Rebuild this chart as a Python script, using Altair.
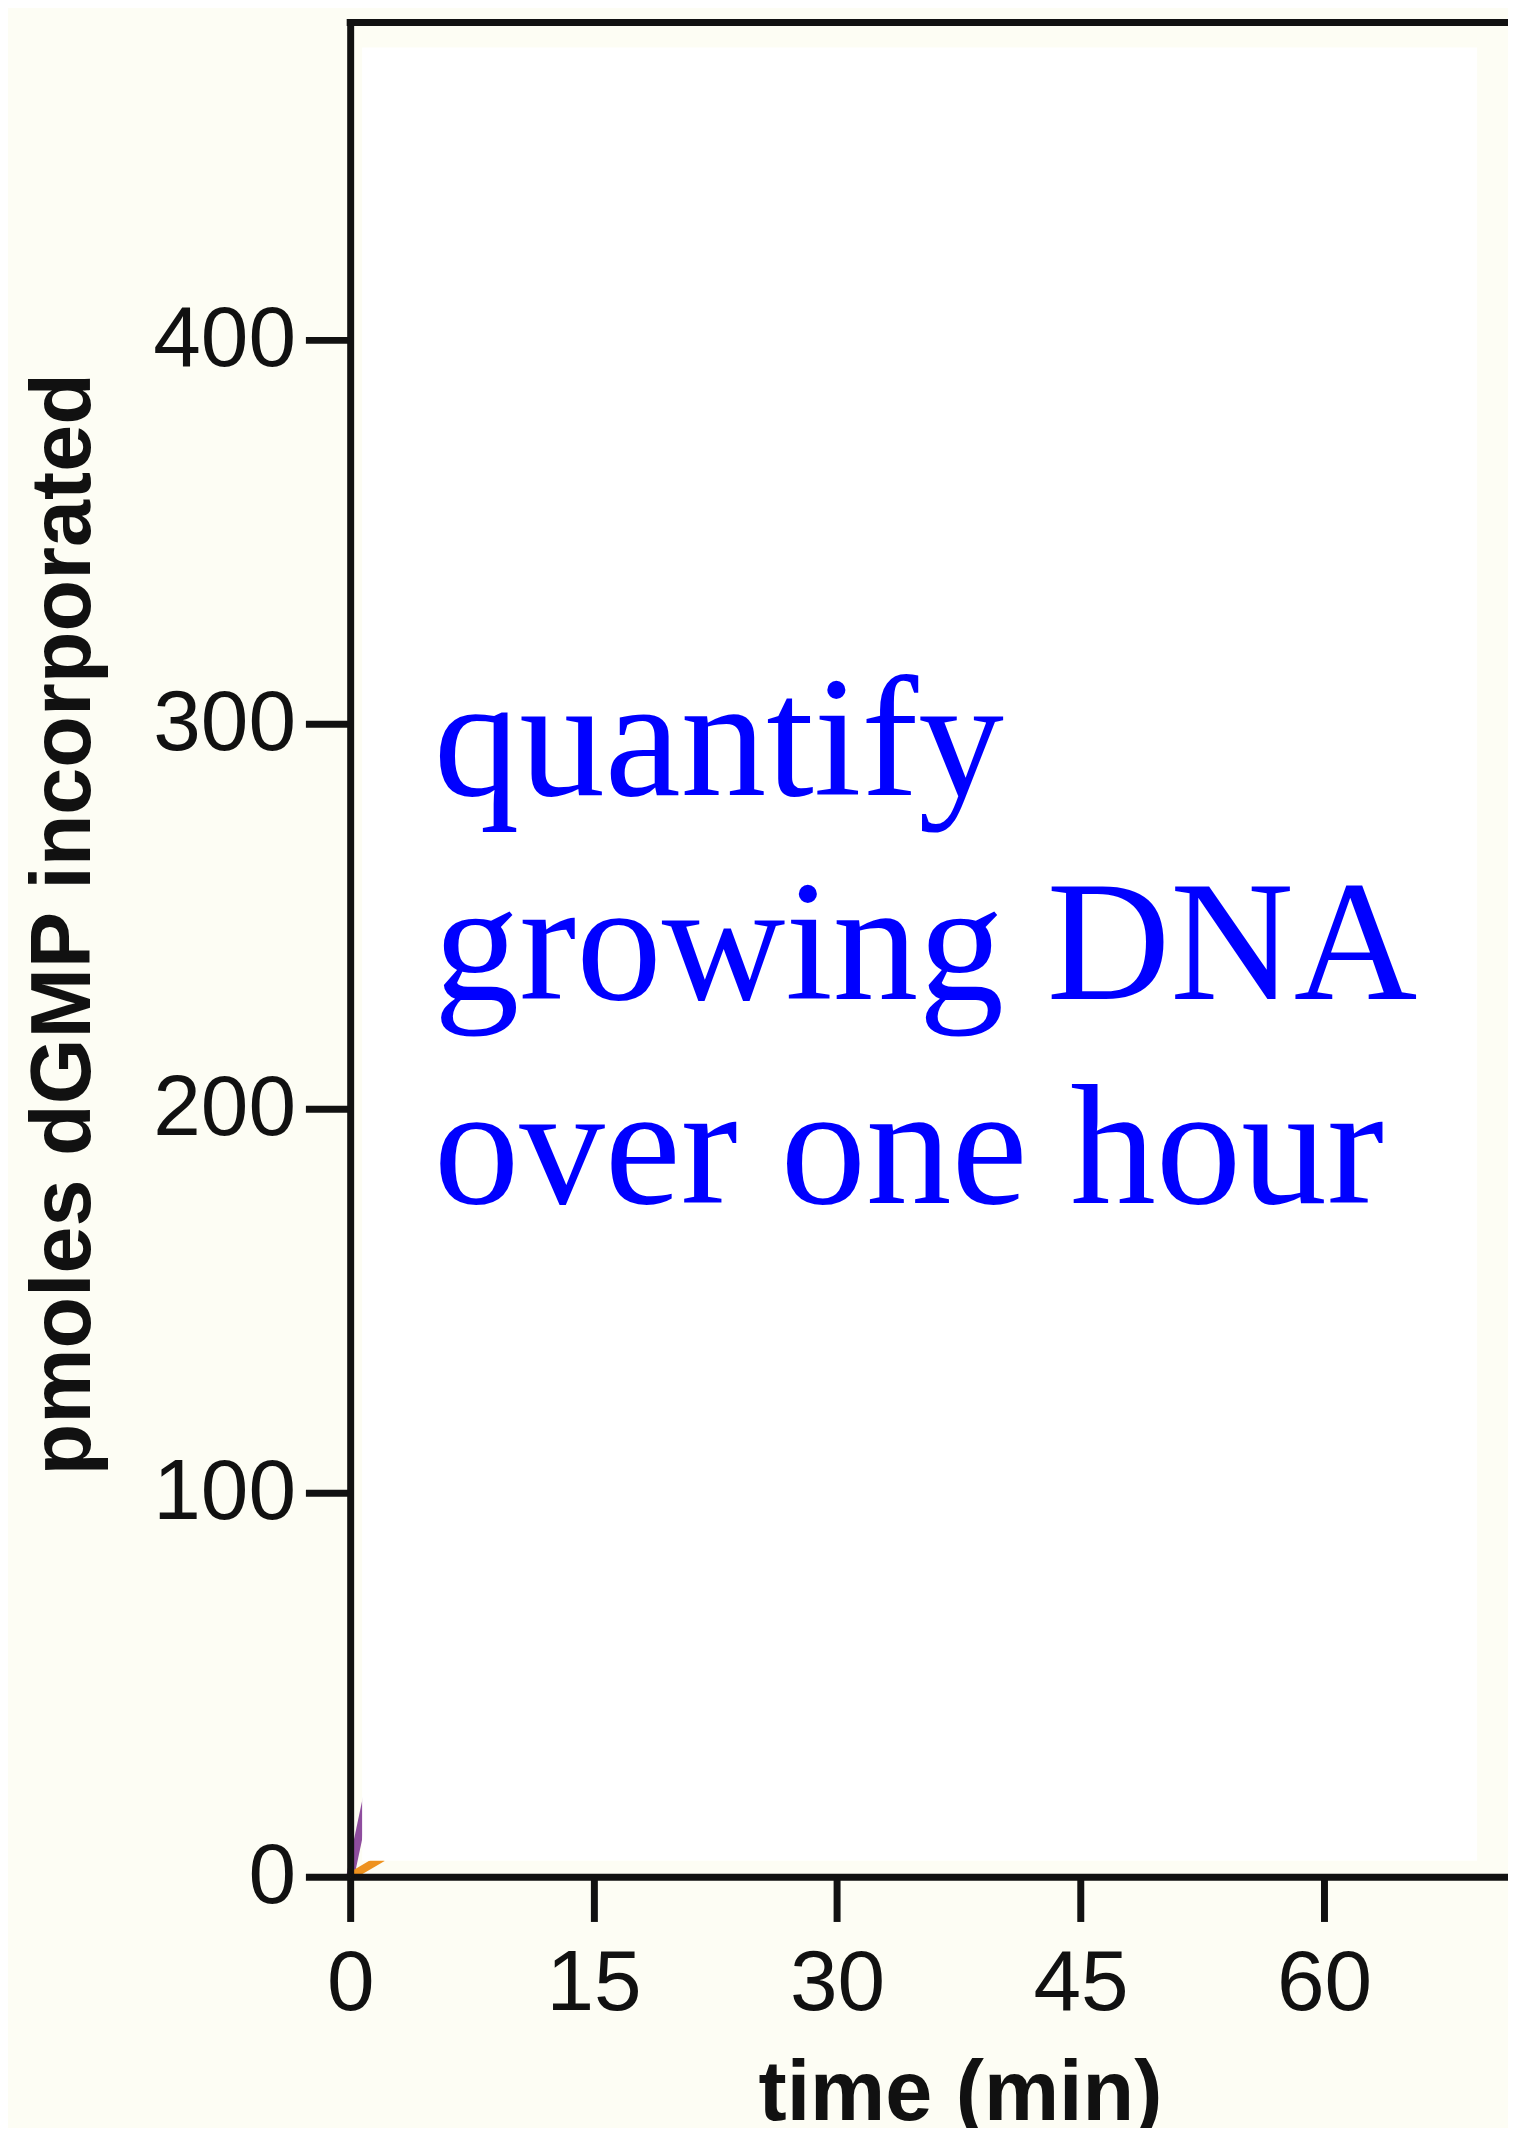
import altair as alt
import pandas as pd

# data (only the tails near the origin are visible)
purple_time = [0, 2]
purple_value = [0, 40]
orange_time = [0, 2]
orange_value = [0, 5]
x_ticks = [0, 15, 30, 45, 60]
y_ticks = [0, 100, 200, 300, 400]
annotation = "quantify\ngrowing DNA\nover one hour"

W, H = 1164, 1864
X_DOMAIN = [0, 71.34]
Y_DOMAIN = [0, 482.6]

lines_df = pd.DataFrame({
    "time": purple_time + orange_time,
    "value": purple_value + orange_value,
    "series": ["purple"] * len(purple_time) + ["orange"] * len(orange_time),
})

x_enc = alt.X(
    "time:Q",
    scale=alt.Scale(domain=X_DOMAIN, nice=False, zero=False),
    axis=alt.Axis(
        values=x_ticks, title="time (min)", grid=False, labelFlush=False,
        titleX=613, titleY=244, titleAlign="center", titleBaseline="alphabetic",
        labelPadding=21, zindex=1,
    ),
)
y_enc = alt.Y(
    "value:Q",
    scale=alt.Scale(domain=Y_DOMAIN, nice=False),
    axis=alt.Axis(
        values=y_ticks, title="pmoles dGMP incorporated", grid=False, labelFlush=False,
        titleX=-262, titleY=906, titleAlign="center", titleBaseline="alphabetic",
        titleAngle=270, labelPadding=10, zindex=1,
    ),
)

lines = alt.Chart(lines_df).mark_line(strokeWidth=8, strokeCap="butt").encode(
    x=x_enc,
    y=y_enc,
    color=alt.Color("series:N",
                    scale=alt.Scale(domain=["purple", "orange"], range=["#8E4D9E", "#EE921E"]),
                    legend=None),
    order=alt.Order("series:N", sort="descending"),
)

one = pd.DataFrame({"t": [annotation]})

white_box = alt.Chart(one).mark_rect(color="white").encode(
    x=alt.value(12), x2=alt.value(1133), y=alt.value(25), y2=alt.value(1848)
)

top_rule = alt.Chart(one).mark_rule(color="#111111", strokeWidth=7).encode(
    x=alt.value(-3.5), x2=alt.value(W), y=alt.value(0)
)

text = alt.Chart(one).mark_text(
    font="Liberation Serif", fontSize=172, color="#0000FF", align="left",
    baseline="alphabetic", lineBreak="\n", lineHeight=205,
).encode(text="t:N", x=alt.value(84), y=alt.value(777))

chart = alt.layer(lines, white_box, text, top_rule).properties(
    width=W, height=H,
    background="#FDFDF4",
    padding={"left": 344, "top": 9, "right": 0, "bottom": 247},
    autosize=alt.AutoSizeParams(type="none"),
).configure_view(stroke="transparent").configure_axis(
    labelFont="Liberation Sans", labelFontSize=86, labelColor="#111111",
    titleFont="Liberation Sans", titleFontSize=85, titleFontWeight="bold", titleColor="#111111",
    domainColor="#111111", domainWidth=7, tickColor="#111111", tickWidth=7, tickSize=45,
)

chart.save("out.html", embed_options={"renderer": "svg", "actions": False})
